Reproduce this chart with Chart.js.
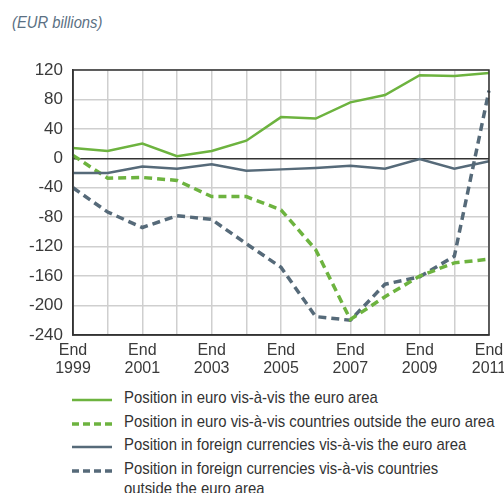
<!DOCTYPE html>
<html>
<head>
<meta charset="utf-8">
<script src="https://cdn.jsdelivr.net/npm/chart.js@4/dist/chart.umd.min.js"></script>
<style>
  body { margin: 0; background: #fff; width: 504px; height: 493px; overflow: hidden; position: relative; }
  #wrap { position: absolute; left: 0; top: 0; width: 504px; height: 380px; }
  #title { position: absolute; left: 12px; top: 13px; font: italic 17px 'Liberation Sans', sans-serif; color: #5b7083;
           transform: scaleX(0.87); transform-origin: left top; white-space: nowrap; }
  #legend { position: absolute; left: 72px; top: 388px; font: 17px 'Liberation Sans', sans-serif; color: #333; }
  .item { display: flex; align-items: flex-start; }
  .item svg { flex: none; margin-top: 10px; margin-right: 12px; }
  .item span { line-height: 20px; margin-bottom: 3.5px; white-space: nowrap; display: inline-block;
               transform: scaleX(0.875); transform-origin: left top; }
</style>
</head>
<body>
<div id="title">(EUR billions)</div>
<div id="wrap"><canvas id="chart"></canvas></div>
<div id="legend"></div>
<script>
// years shown on the x axis (every other one is labelled)
const years = ['1999', '2000', '2001', '2002', '2003', '2004', '2005', '2006', '2007', '2008', '2009', '2010', '2011'];

// legend names, split where the original breaks the line
const seriesNames = [
  ['Position in euro vis-à-vis the euro area'],
  ['Position in euro vis-à-vis countries outside the euro area'],
  ['Position in foreign currencies vis-à-vis the euro area'],
  ['Position in foreign currencies vis-à-vis countries', 'outside the euro area']
];

const euroInside = [14, 10, 20, 3, 10, 24, 56, 54, 76, 86, 113, 112, 116];
const euroOutside = [4, -27, -26, -30, -52, -52, -70, -124, -219, -188, -160, -142, -137];
const foreignInside = [-20, -20, -11, -14, -8, -17, -15, -13, -10, -14, -1, -14, -4];
const foreignOutside = [-40, -73, -94, -78, -83, -116, -148, -215, -220, -171, -161, -133, 92];

const green = '#6db33f';
const slate = '#566a79';
const fontFamily = "'Liberation Sans', sans-serif";

// frame around the plot area (top and right included)
const framePlugin = {
  id: 'frame',
  afterDraw(chart) {
    const { ctx, chartArea: a } = chart;
    ctx.save();
    ctx.strokeStyle = '#333';
    ctx.lineWidth = 1.5;
    ctx.strokeRect(a.left, a.top, a.right - a.left, a.bottom - a.top);
    ctx.restore();
  }
};

const styles = [
  { color: green, dash: [], width: 2.5 },
  { color: green, dash: [8, 5], width: 3.5 },
  { color: slate, dash: [], width: 2.5 },
  { color: slate, dash: [8, 5], width: 3.5 }
];
const values = [euroInside, euroOutside, foreignInside, foreignOutside];
const drawOrder = [0, 2, 1, 3]; // solid lines above the dashed ones

const datasets = values.map((v, i) => ({
  label: seriesNames[i].join(' '),
  data: v,
  borderColor: styles[i].color,
  borderDash: styles[i].dash,
  borderWidth: styles[i].width,
  pointRadius: 0,
  tension: 0,
  fill: false,
  order: drawOrder[i]
}));

new Chart(document.getElementById('chart'), {
  type: 'line',
  data: { labels: years, datasets: datasets },
  plugins: [framePlugin],
  options: {
    responsive: true,
    maintainAspectRatio: false,
    animation: false,
    layout: { padding: { top: 70, right: 15, left: 0, bottom: 0 } },
    plugins: { legend: { display: false }, tooltip: { enabled: false } },
    scales: {
      x: {
        offset: false,
        afterFit(scale) {
          scale.height = 45;
          scale.paddingLeft = 0;
          scale.paddingRight = 0;
        },
        grid: { color: '#cfcfcf', lineWidth: 1.5, drawTicks: false },
        border: { color: '#333', width: 1.5 },
        ticks: {
          autoSkip: false,
          maxRotation: 0,
          padding: 7,
          color: '#3a3a3a',
          font: { family: fontFamily, size: 16, lineHeight: 1.1 },
          callback(val, idx) { return idx % 2 === 0 ? ['End', years[idx]] : ''; }
        }
      },
      y: {
        min: -240,
        max: 120,
        afterFit(scale) { scale.width = 73; },
        grid: {
          color: ctx => ctx.tick && ctx.tick.value === 0 ? '#333' : '#cfcfcf',
          lineWidth: 1.5,
          drawTicks: false
        },
        border: { color: '#333', width: 1.5 },
        ticks: {
          stepSize: 40,
          padding: 10,
          color: '#3a3a3a',
          font: { family: fontFamily, size: 17 }
        }
      }
    }
  }
});

// legend
const legend = document.getElementById('legend');
seriesNames.forEach((lines, i) => {
  const s = styles[i];
  const row = document.createElement('div');
  row.className = 'item';
  const dash = s.dash.length ? ' stroke-dasharray="7 4"' : '';
  row.innerHTML = '<svg width="40" height="4"><line x1="0" y1="2" x2="40" y2="2" stroke="' + s.color +
    '" stroke-width="' + (s.dash.length ? 3.5 : 2.5) + '"' + dash + '/></svg><span>' + lines.join('<br>') + '</span>';
  legend.appendChild(row);
});
</script>
</body>
</html>
